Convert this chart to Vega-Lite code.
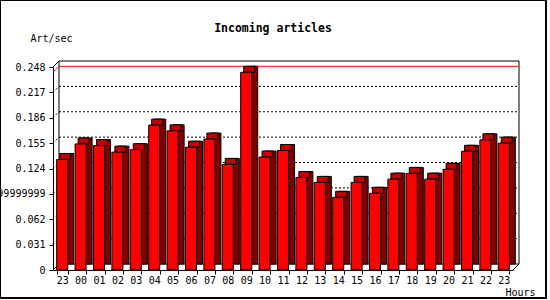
{
  "$schema": "https://vega.github.io/schema/vega-lite/v6.json",
  "width": 546,
  "height": 298,
  "autosize": {"type": "none"},
  "padding": {"left": 0, "top": 0, "right": 4, "bottom": 2},
  "background": "white",
  "config": {
    "view": {"stroke": "black", "strokeWidth": 2},
    "font": "DejaVu Sans Mono",
    "axis": {
      "labelFont": "DejaVu Sans Mono", "labelFontSize": 10, "labelColor": "black",
      "titleFont": "DejaVu Sans Mono", "titleFontSize": 10, "titleFontWeight": "normal", "titleColor": "black",
      "domainColor": "black", "tickColor": "black", "grid": false
    }
  },
  "title": {
    "text": "Incoming articles", "font": "DejaVu Sans Mono", "fontSize": 11.5, "fontWeight": "bold",
    "color": "black", "anchor": "middle", "frame": "group", "baseline": "alphabetic", "offset": -43
  },
  "datasets": {
    "traffic": [
      {"time": "2024-06-10 23:00", "v": 0.135},
      {"time": "2024-06-11 00:00", "v": 0.154},
      {"time": "2024-06-11 01:00", "v": 0.152},
      {"time": "2024-06-11 02:00", "v": 0.144},
      {"time": "2024-06-11 03:00", "v": 0.147},
      {"time": "2024-06-11 04:00", "v": 0.177},
      {"time": "2024-06-11 05:00", "v": 0.170},
      {"time": "2024-06-11 06:00", "v": 0.150},
      {"time": "2024-06-11 07:00", "v": 0.160},
      {"time": "2024-06-11 08:00", "v": 0.129},
      {"time": "2024-06-11 09:00", "v": 0.2415},
      {"time": "2024-06-11 10:00", "v": 0.138},
      {"time": "2024-06-11 11:00", "v": 0.146},
      {"time": "2024-06-11 12:00", "v": 0.113},
      {"time": "2024-06-11 13:00", "v": 0.107},
      {"time": "2024-06-11 14:00", "v": 0.0888},
      {"time": "2024-06-11 15:00", "v": 0.107},
      {"time": "2024-06-11 16:00", "v": 0.0937},
      {"time": "2024-06-11 17:00", "v": 0.111},
      {"time": "2024-06-11 18:00", "v": 0.118},
      {"time": "2024-06-11 19:00", "v": 0.111},
      {"time": "2024-06-11 20:00", "v": 0.123},
      {"time": "2024-06-11 21:00", "v": 0.145},
      {"time": "2024-06-11 22:00", "v": 0.159},
      {"time": "2024-06-11 23:00", "v": 0.155}
    ],
    "grid": [{"v": 0.031}, {"v": 0.062}, {"v": 0.093}, {"v": 0.124}, {"v": 0.155}, {"v": 0.186}, {"v": 0.217}],
    "corners": [{"c": 0, "v": 0.248}, {"c": 0, "v": 0}, {"c": 1, "v": 0}],
    "wall": [{"c": 0, "c2": 1, "v": 0.248, "v2": 0}]
  },
  "encoding": {
    "y": {
      "field": "v", "type": "quantitative",
      "scale": {"domain": [0, 0.248], "range": [270, 67], "nice": false},
      "axis": {
        "orient": "left", "offset": -53, "values": [0, 0.031, 0.062, 0.09299999999999999, 0.124, 0.155, 0.186, 0.217, 0.248],
        "labelExpr": "toString(datum.value)", "tickSize": 4, "labelPadding": 4,
        "title": "Art/sec", "titleAngle": 0, "titleX": -23, "titleY": 41, "titleAlign": "left", "titleBaseline": "alphabetic"
      }
    }
  },
  "layer": [
    {
      "data": {"name": "wall"},
      "mark": {"type": "rect", "fill": "white", "stroke": "black", "strokeWidth": 1, "xOffset": 6, "x2Offset": 6, "yOffset": -6, "y2Offset": -6},
      "encoding": {
        "x": {"field": "c", "type": "quantitative", "scale": {"domain": [0, 1], "range": [53, 513]}, "axis": null},
        "x2": {"field": "c2"},
        "y2": {"field": "v2"}
      }
    },
    {
      "data": {"name": "grid"},
      "mark": {"type": "rule", "stroke": "black", "strokeWidth": 1, "strokeDash": [2, 2], "xOffset": 6, "x2Offset": 6, "yOffset": -6},
      "encoding": {
        "x": {"datum": 0, "type": "quantitative", "scale": {"domain": [0, 1], "range": [53, 513]}, "axis": null},
        "x2": {"datum": 1}
      }
    },
    {
      "data": {"name": "grid"},
      "mark": {"type": "rule", "stroke": "black", "strokeWidth": 1, "strokeDash": [2, 2], "x2Offset": 6, "y2Offset": -6},
      "encoding": {
        "x": {"datum": 0, "type": "quantitative", "scale": {"domain": [0, 1], "range": [53, 513]}, "axis": null},
        "x2": {"datum": 0},
        "y2": {"field": "v"}
      }
    },
    {
      "data": {"name": "traffic"},
      "transform": [{"aggregate": [{"op": "max", "field": "v", "as": "v"}]}],
      "mark": {"type": "rule", "stroke": "red", "strokeWidth": 1, "xOffset": 6, "x2Offset": 6, "yOffset": -6},
      "encoding": {
        "x": {"datum": 0, "type": "quantitative", "scale": {"domain": [0, 1], "range": [53, 513]}, "axis": null},
        "x2": {"datum": 1}
      }
    },
    {
      "data": {"name": "traffic"},
      "transform": [{"aggregate": [{"op": "max", "field": "v", "as": "v"}]}],
      "mark": {"type": "rule", "stroke": "red", "strokeWidth": 1, "x2Offset": 6, "y2Offset": -6},
      "encoding": {
        "x": {"datum": 0, "type": "quantitative", "scale": {"domain": [0, 1], "range": [53, 513]}, "axis": null},
        "x2": {"datum": 0},
        "y2": {"field": "v"}
      }
    },
    {
      "data": {"name": "corners"},
      "mark": {"type": "rule", "stroke": "black", "strokeWidth": 1, "x2Offset": 6, "y2Offset": -6},
      "encoding": {
        "x": {"field": "c", "type": "quantitative", "scale": {"domain": [0, 1], "range": [53, 513]}, "axis": null},
        "x2": {"field": "c"},
        "y2": {"field": "v"}
      }
    },
    {
      "data": {"name": "traffic"},
      "mark": {"type": "bar", "fill": "#800000", "stroke": "black", "strokeWidth": 1, "xOffset": 6, "yOffset": -6, "y2Offset": -6},
      "encoding": {
        "x": {"field": "time", "type": "ordinal", "scale": {"range": [53, 513], "paddingInner": 0.4, "paddingOuter": 0.2}, "axis": null},
        "y2": {"datum": 0}
      }
    },
    {
      "data": {"name": "traffic"},
      "mark": {"type": "bar", "fill": "#c00000", "stroke": "black", "strokeWidth": 1, "xOffset": 3, "yOffset": -6},
      "encoding": {
        "x": {"field": "time", "type": "ordinal", "scale": {"range": [53, 513], "paddingInner": 0.4, "paddingOuter": 0.2}, "axis": null},
        "y2": {"field": "v"}
      }
    },
    {
      "data": {"name": "traffic"},
      "mark": {"type": "bar", "fill": "#ff0000", "stroke": "black", "strokeWidth": 1},
      "encoding": {
        "x": {
          "field": "time", "type": "ordinal",
          "scale": {"range": [53, 513], "paddingInner": 0.4, "paddingOuter": 0.2},
          "axis": {
            "orient": "bottom", "offset": -28, "labelAngle": 0, "tickBand": "extent", "tickSize": 4, "labelPadding": 1,
            "labelExpr": "slice(datum.label, 11, 13)",
            "title": "Hours", "titleX": 505, "titleY": 25, "titleAlign": "left", "titleBaseline": "alphabetic", "titleAnchor": null
          }
        }
      }
    }
  ],
  "resolve": {"scale": {"x": "independent"}}
}
